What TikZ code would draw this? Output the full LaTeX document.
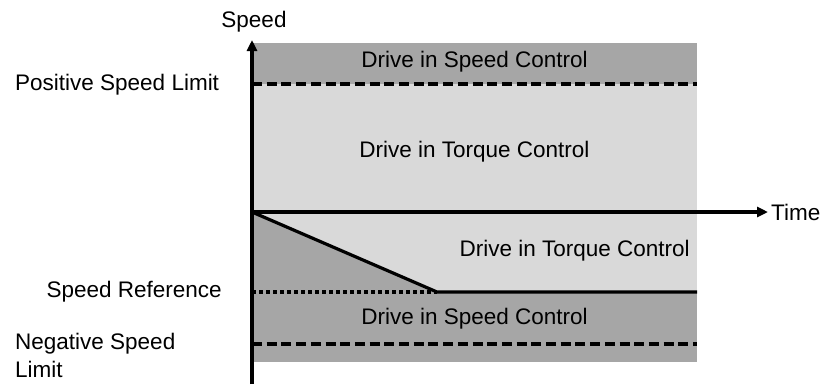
\documentclass[tikz,border=0pt]{standalone}
\usepackage{fontspec}
\setmainfont{Liberation Sans}
\usepackage{tikz}
\usetikzlibrary{arrows.meta, positioning}
\definecolor{BandDark}{HTML}{A6A6A6}
\definecolor{BandLight}{HTML}{D9D9D9}

\begin{document}
\begin{tikzpicture}[x=1pt, y=-1pt,
            axis/.style={line width=3.2pt, -{Triangle[length=11pt, width=10pt]}},
            limit/.style={line width=3.2pt, dash pattern=on 10pt off 4.7pt},
            refline/.style={line width=3.2pt, dash pattern=on 3.5pt off 3.5pt},
            lbl/.style={font=\fontsize{22.5}{28}\selectfont, inner sep=0pt}
        ]
        \useasboundingbox (0,0) rectangle (823,384);

        % The Bands
        \fill[BandLight] (252,84) rectangle (697,292);
        \fill[BandDark] (252,43) rectangle (697,84);
        \fill[BandDark] (252,292) rectangle (697,362);
        \fill[BandDark] (252,212) -- (437,292) -- (252,292) -- cycle;

        % Points
        \coordinate (o) at (252,212);
        \coordinate (ytop) at (252,40);
        \coordinate (ybot) at (252,384);
        \coordinate (xend) at (768,212);
        \coordinate (knee) at (437,292);
        \coordinate (refl) at (252,292);
        \coordinate (refr) at (697,292);
        \coordinate (posl) at (252,84);
        \coordinate (posr) at (697,84);
        \coordinate (negl) at (252,344);
        \coordinate (negr) at (697,344);

        % Lines
        \draw[limit] (posl) -- (posr);
        \draw[limit] (negl) -- (negr);
        \draw[refline] (refl) -- (knee);
        \draw[line width=3.2pt, line join=round] (o) -- (knee) -- (refr);
        \draw[axis] (ybot) -- (ytop);
        \draw[axis] (o) -- (xend);

        % Labels
        \node[lbl] (speed) at (254,22) {Speed};
        \node[lbl, anchor=west] (time) at (771,212) {Time};
        \node[lbl] (spdtop) at (474.5,62) {Drive in Speed Control};
        \node[lbl] (trqtop) at (474.5,152) {Drive in Torque Control};
        \node[lbl, anchor=east] (trqbot) at (690,251) {Drive in Torque Control};
        \node[lbl] (spdbot) at (474.5,319) {Drive in Speed Control};
        \node[lbl, anchor=west] (poslim) at (15,85) {Positive Speed Limit};
        \node[lbl, anchor=east] (spdref) at (222,292) {Speed Reference};
        \node[lbl, anchor=north west, align=left] (neglim) at (15,333) {Negative Speed\\Limit};

        \end{tikzpicture}
\end{document}
